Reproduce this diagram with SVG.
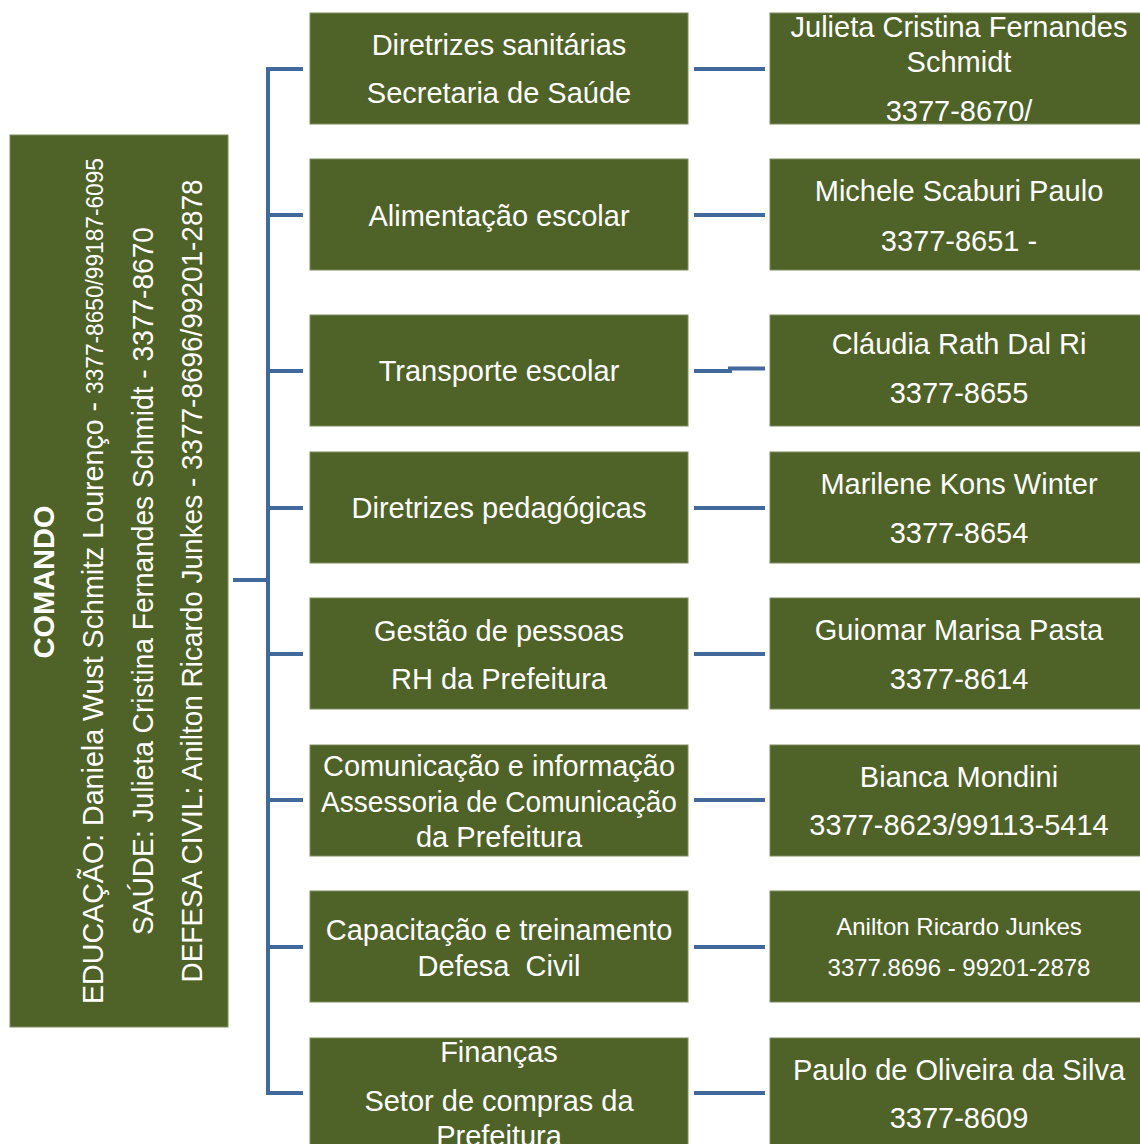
<svg xmlns="http://www.w3.org/2000/svg" width="1140" height="1144" viewBox="0 0 1140 1144">
<style>
.box{fill:#4F6228;stroke:#7d8c5c;stroke-width:1}
.t{font-family:"Liberation Sans",Arial,sans-serif;font-size:29px;fill:#ffffff;text-anchor:middle}
.s{font-size:24px}
.b{font-weight:bold}
.c{fill:none;stroke:#41699C;stroke-width:4}
</style>
<rect width="1140" height="1144" fill="#ffffff"/>
<g id="connectors">
<path class="c" d="M233,580 H268 M303,69 H268 V1093 H303 M268,215 H303 M268,371 H303 M268,508 H303 M268,654 H303 M268,800 H303 M268,947 H303"/>
<path class="c" d="M694,69 H765 M694,215 H765 M694,371 H730 V368.5 H765 M694,508 H765 M694,654 H765 M694,800 H765 M694,947 H765 M694,1093 H765"/>
</g>
<g id="comando">
<rect class="box" x="10" y="135" width="218" height="892"/>
<text class="t b" transform="translate(54,582) rotate(-90)" font-size="26">COMANDO</text>
<text class="t" transform="translate(103,581) rotate(-90)" font-size="26" textLength="846" lengthAdjust="spacingAndGlyphs">EDUCAÇÃO: Daniela Wust Schmitz Lourenço - <tspan font-size="23">3377-8650/99187-6095</tspan></text>
<text class="t" transform="translate(153,581) rotate(-90)" font-size="26" textLength="708" lengthAdjust="spacingAndGlyphs">SAÚDE: Julieta Cristina Fernandes Schmidt - 3377-8670</text>
<text class="t" transform="translate(202,581) rotate(-90)" font-size="26" textLength="803" lengthAdjust="spacingAndGlyphs">DEFESA CIVIL: Anilton Ricardo Junkes - 3377-8696/99201-2878</text>
</g>
<g id="m1"><rect class="box" x="310" y="13" width="378" height="111"/>
<text class="t" x="499" y="55">Diretrizes sanitárias</text><text class="t" x="499" y="103">Secretaria de Saúde</text></g>
<g id="m2"><rect class="box" x="310" y="159" width="378" height="111"/>
<text class="t" x="499" y="226">Alimentação escolar</text></g>
<g id="m3"><rect class="box" x="310" y="315" width="378" height="111"/>
<text class="t" x="499" y="381">Transporte escolar</text></g>
<g id="m4"><rect class="box" x="310" y="452" width="378" height="111"/>
<text class="t" x="499" y="518">Diretrizes pedagógicas</text></g>
<g id="m5"><rect class="box" x="310" y="598" width="378" height="111"/>
<text class="t" x="499" y="641">Gestão de pessoas</text><text class="t" x="499" y="689">RH da Prefeitura</text></g>
<g id="m6"><rect class="box" x="310" y="745" width="378" height="111"/>
<text class="t" x="499" y="776" textLength="352" lengthAdjust="spacingAndGlyphs">Comunicação e informação</text><text class="t" x="499" y="812" textLength="356" lengthAdjust="spacingAndGlyphs">Assessoria de Comunicação</text><text class="t" x="499" y="847">da Prefeitura</text></g>
<g id="m7"><rect class="box" x="310" y="891" width="378" height="111"/>
<text class="t" x="499" y="940">Capacitação e treinamento</text><text class="t" x="499" y="976" xml:space="preserve">Defesa  Civil</text></g>
<g id="m8"><rect class="box" x="310" y="1038" width="378" height="120"/>
<text class="t" x="499" y="1062">Finanças</text><text class="t" x="499" y="1111">Setor de compras da</text><text class="t" x="499" y="1146">Prefeitura</text></g>
<g id="r1"><rect class="box" x="770" y="13" width="378" height="111"/>
<text class="t" x="959" y="37">Julieta Cristina Fernandes</text><text class="t" x="959" y="72">Schmidt</text><text class="t" x="959" y="121">3377-8670/</text></g>
<g id="r2"><rect class="box" x="770" y="159" width="378" height="111"/>
<text class="t" x="959" y="201">Michele Scaburi Paulo</text><text class="t" x="959" y="251">3377-8651 -</text></g>
<g id="r3"><rect class="box" x="770" y="315" width="378" height="111"/>
<text class="t" x="959" y="354">Cláudia Rath Dal Ri</text><text class="t" x="959" y="403">3377-8655</text></g>
<g id="r4"><rect class="box" x="770" y="452" width="378" height="111"/>
<text class="t" x="959" y="494">Marilene Kons Winter</text><text class="t" x="959" y="543">3377-8654</text></g>
<g id="r5"><rect class="box" x="770" y="598" width="378" height="111"/>
<text class="t" x="959" y="640">Guiomar Marisa Pasta</text><text class="t" x="959" y="689">3377-8614</text></g>
<g id="r6"><rect class="box" x="770" y="745" width="378" height="111"/>
<text class="t" x="959" y="787">Bianca Mondini</text><text class="t" x="959" y="835">3377-8623/99113-5414</text></g>
<g id="r7"><rect class="box" x="770" y="891" width="378" height="111"/>
<text class="t s" x="959" y="935">Anilton Ricardo Junkes</text><text class="t s" x="959" y="976">3377.8696 - 99201-2878</text></g>
<g id="r8"><rect class="box" x="770" y="1038" width="378" height="120"/>
<text class="t" x="959" y="1080">Paulo de Oliveira da Silva</text><text class="t" x="959" y="1128">3377-8609</text></g>
</svg>
